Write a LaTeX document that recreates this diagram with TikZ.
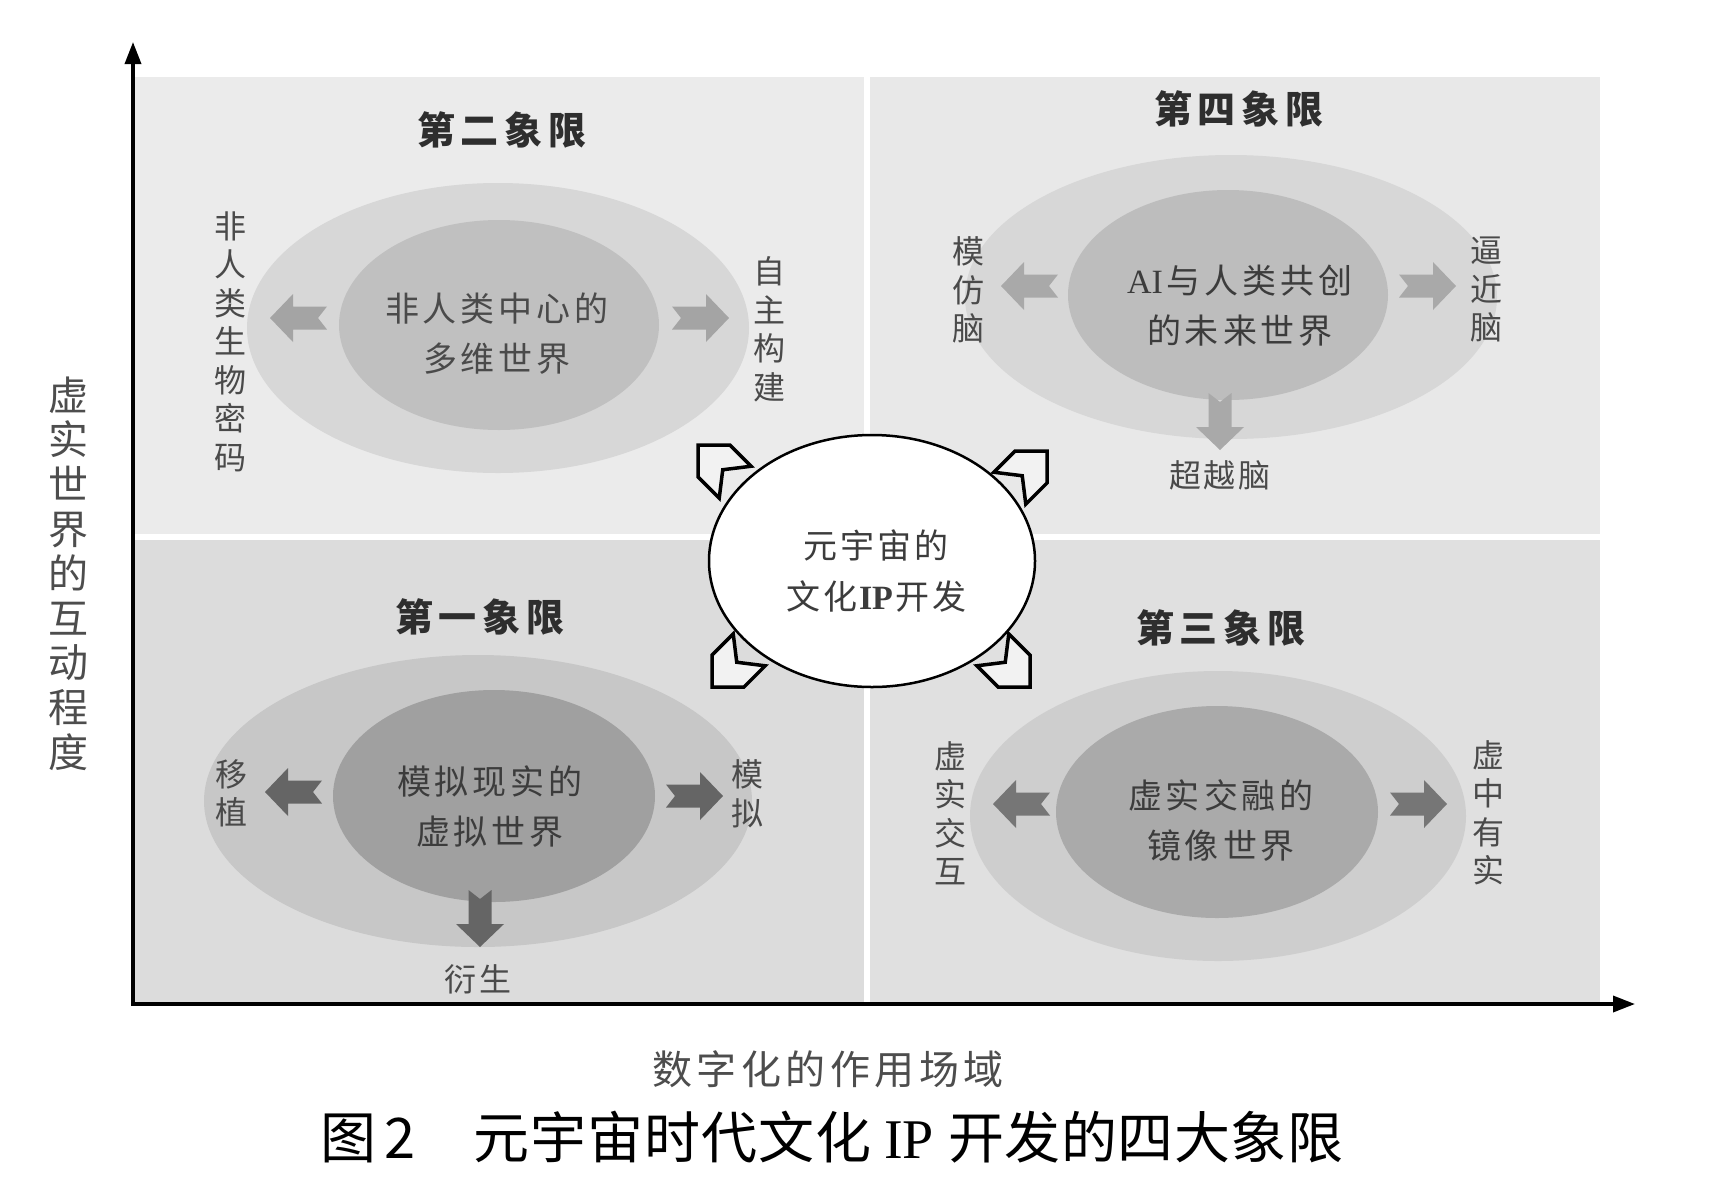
\documentclass[tikz,border=0pt]{standalone}
\usepackage{fontspec}
\setmainfont{Liberation Serif}
\newfontfamily\cjk{Noto Sans CJK SC}
\usetikzlibrary{shapes.geometric,arrows.meta}
\makeatletter
\newcommand\spreadtext[2]{\begingroup\def\sp@k{#1}\@tfor\sp@c:=#2\do{\sp@c\kern\sp@k}\unkern\endgroup}
\makeatother
\newcommand\fsz[2]{\fontsize{#1}{#2}\selectfont}
\definecolor{bgone}{HTML}{DCDCDC}
\definecolor{bgtwo}{HTML}{EBEBEB}
\definecolor{bgthree}{HTML}{E0E0E0}
\definecolor{bgfour}{HTML}{E8E8E8}
\definecolor{outone}{HTML}{C7C7C7}
\definecolor{inone}{HTML}{A0A0A0}
\definecolor{outtwo}{HTML}{D7D7D7}
\definecolor{intwo}{HTML}{C0C0C0}
\definecolor{outthree}{HTML}{CECECE}
\definecolor{inthree}{HTML}{AAAAAA}
\definecolor{outfour}{HTML}{D7D7D7}
\definecolor{infour}{HTML}{BDBDBD}
\definecolor{arrone}{HTML}{656565}
\definecolor{arrtwo}{HTML}{A4A4A4}
\definecolor{arrthree}{HTML}{767676}
\definecolor{arrfour}{HTML}{A9A9A9}
\definecolor{titc}{HTML}{2E2E2E}
\definecolor{intc}{HTML}{3C3C3C}
\definecolor{labc}{HTML}{4A4A4A}
\definecolor{axc}{HTML}{4D4D4D}
\definecolor{chevfill}{HTML}{F2F2F2}
\begin{document}
\begin{tikzpicture}[x=1pt,y=-1pt,
  titl/.style={font=\cjk\bfseries\fsz{38}{38}, text=titc, inner sep=0pt},
  intext/.style={font=\cjk\fsz{34}{50}, text=intc, inner sep=0pt, align=center},
  vlab/.style={font=\cjk\fsz{32}{38.5}, text=labc, inner sep=0pt, align=center},
  hlab/.style={font=\cjk\fsz{32}{32}, text=labc, inner sep=0pt},
  blob/.style={ellipse, draw=none, inner sep=0pt},
  barrow/.pic={\fill[pic actions] (0,0) -- (-23,24) -- (-23,11.5) -- (-57,11.5) -- (-48,0) -- (-57,-11.5) -- (-23,-11.5) -- (-23,-24) -- cycle;},
  chev/.pic={\filldraw[pic actions] (0,0) -- (-22.6,22.6) -- (-52.6,22.6) -- (-35,0) -- (-52.6,-22.6) -- (-22.6,-22.6) -- cycle;},
  chevst/.style={draw=black, fill=chevfill, line width=3.5pt, line join=miter}
]
\fill[white] (0,0) rectangle (1729,1200);
\useasboundingbox (0,0) rectangle (1729,1200);

% quadrant panels
\fill[bgtwo] (133,77) rectangle (867,537);
\fill[bgfour] (867,77) rectangle (1600,537);
\fill[bgone] (133,537) rectangle (867,1004);
\fill[bgthree] (867,537) rectangle (1600,1004);
\draw[white, line width=6pt] (133,537) -- (1600,537);
\draw[white, line width=6pt] (867,77) -- (867,1004);

% quadrant two (top left)
\node[blob, fill=outtwo, minimum width=502pt, minimum height=290pt] (q2o) at (498,328) {};
\node[blob, fill=intwo, minimum width=320pt, minimum height=210pt] (q2i) at (499,325) {};
\node[intext, text=labc] (q2t) at (497,334) {\spreadtext{4pt}{非人类中心的}\\\spreadtext{4pt}{多维世界}};
\pic[fill=arrtwo, rotate=180] at (270,318) {barrow};
\pic[fill=arrtwo] at (729,318) {barrow};
\node[titl] (t2) at (502,130) {\spreadtext{6pt}{第二象限}};
\node[vlab] (l2a) at (230,341.5) {非\\人\\类\\生\\物\\密\\码};
\node[vlab] (l2b) at (769,329.5) {自\\主\\构\\建};

% quadrant four (top right)
\node[blob, fill=outfour, minimum width=532pt, minimum height=284pt] (q4o) at (1231,297) {};
\node[blob, fill=infour, minimum width=320pt, minimum height=210pt] (q4i) at (1228,295) {};
\node[intext] (q4t) at (1240,305.5) {{\rmfamily AI}\kern4pt\spreadtext{4pt}{与人类共创}\\\spreadtext{4pt}{的未来世界}};
\pic[fill=arrfour, rotate=180] at (1001,286) {barrow};
\pic[fill=arrfour] at (1456,286) {barrow};
\pic[fill=arrfour, rotate=270] at (1220,450) {barrow};
\node[titl] (t4) at (1239,109) {\spreadtext{6pt}{第四象限}};
\node[vlab] (l4a) at (968,290) {模\\仿\\脑};
\node[vlab] (l4b) at (1486,290) {逼\\近\\脑};
\node[hlab] (l4c) at (1220,475) {\spreadtext{3pt}{超越脑}};

% quadrant one (bottom left)
\node[blob, fill=outone, minimum width=548pt, minimum height=292pt] (q1o) at (478,801) {};
\node[blob, fill=inone, minimum width=322pt, minimum height=212pt] (q1i) at (494,796) {};
\node[intext] (q1t) at (490,807) {\spreadtext{4pt}{模拟现实的}\\\spreadtext{4pt}{虚拟世界}};
\pic[fill=arrone, rotate=180] at (265,792) {barrow};
\pic[fill=arrone] at (723,796) {barrow};
\pic[fill=arrone, rotate=270] at (480,947) {barrow};
\node[titl] (t1) at (480,617) {\spreadtext{6pt}{第一象限}};
\node[vlab] (l1a) at (231,793.5) {移\\植};
\node[vlab] (l1b) at (747,794) {模\\拟};
\node[hlab] (l1c) at (478,979) {\spreadtext{3pt}{衍生}};

% quadrant three (bottom right)
\node[blob, fill=outthree, minimum width=496pt, minimum height=290pt] (q3o) at (1218,816) {};
\node[blob, fill=inthree, minimum width=322pt, minimum height=212pt] (q3i) at (1217,812) {};
\node[intext] (q3t) at (1221,821) {\spreadtext{4pt}{虚实交融的}\\\spreadtext{4pt}{镜像世界}};
\pic[fill=arrthree, rotate=180] at (993,804) {barrow};
\pic[fill=arrthree] at (1447,804) {barrow};
\node[titl] (t3) at (1221,628) {\spreadtext{6pt}{第三象限}};
\node[vlab] (l3a) at (950,813) {虚\\实\\交\\互};
\node[vlab] (l3b) at (1488,813) {虚\\中\\有\\实};

% centre
\node[ellipse, draw=black, line width=2.5pt, fill=white, minimum width=326pt, minimum height=252pt, inner sep=0pt] (core) at (872,561) {};
\node[intext, font=\cjk\fsz{34}{51}] (coret) at (876,571.5) {\spreadtext{3pt}{元宇宙的}\\文\kern3pt 化\kern2pt{\rmfamily\bfseries IP}\kern2pt 开\kern3pt 发};
\pic[chevst, rotate=135] at (698,445) {chev};
\pic[chevst, rotate=45] at (1047,451) {chev};
\pic[chevst, rotate=225] at (712,687) {chev};
\pic[chevst, rotate=315] at (1030,687) {chev};

% axes
\coordinate (O) at (133,1004);
\coordinate (ytop) at (133,42);
\coordinate (xend) at (1635,1004);
\draw[line width=3.5pt, line join=miter, {Triangle[length=22pt,width=16pt]}-{Triangle[length=22pt,width=16pt]}] (ytop) -- (O) -- (xend);
\node[font=\cjk\fsz{40}{44.6}, text=axc, inner sep=0pt, align=center] (ylab) at (68,573.5) {虚\\实\\世\\界\\的\\互\\动\\程\\度};
\node[font=\cjk\fsz{40}{40}, text=axc, inner sep=0pt] (xlab) at (828,1069) {\spreadtext{4.5pt}{数字化的作用场域}};

% caption
\node[anchor=west, font=\cjk\fsz{56}{56}, text=black, inner sep=0pt] (cap) at (320,1137) {图\kern8pt 2\kern58pt\spreadtext{1pt}{元宇宙时代文化}\kern13pt{\rmfamily IP}\kern14pt\spreadtext{0.5pt}{开发的四大象限}};
\end{tikzpicture}
\end{document}
